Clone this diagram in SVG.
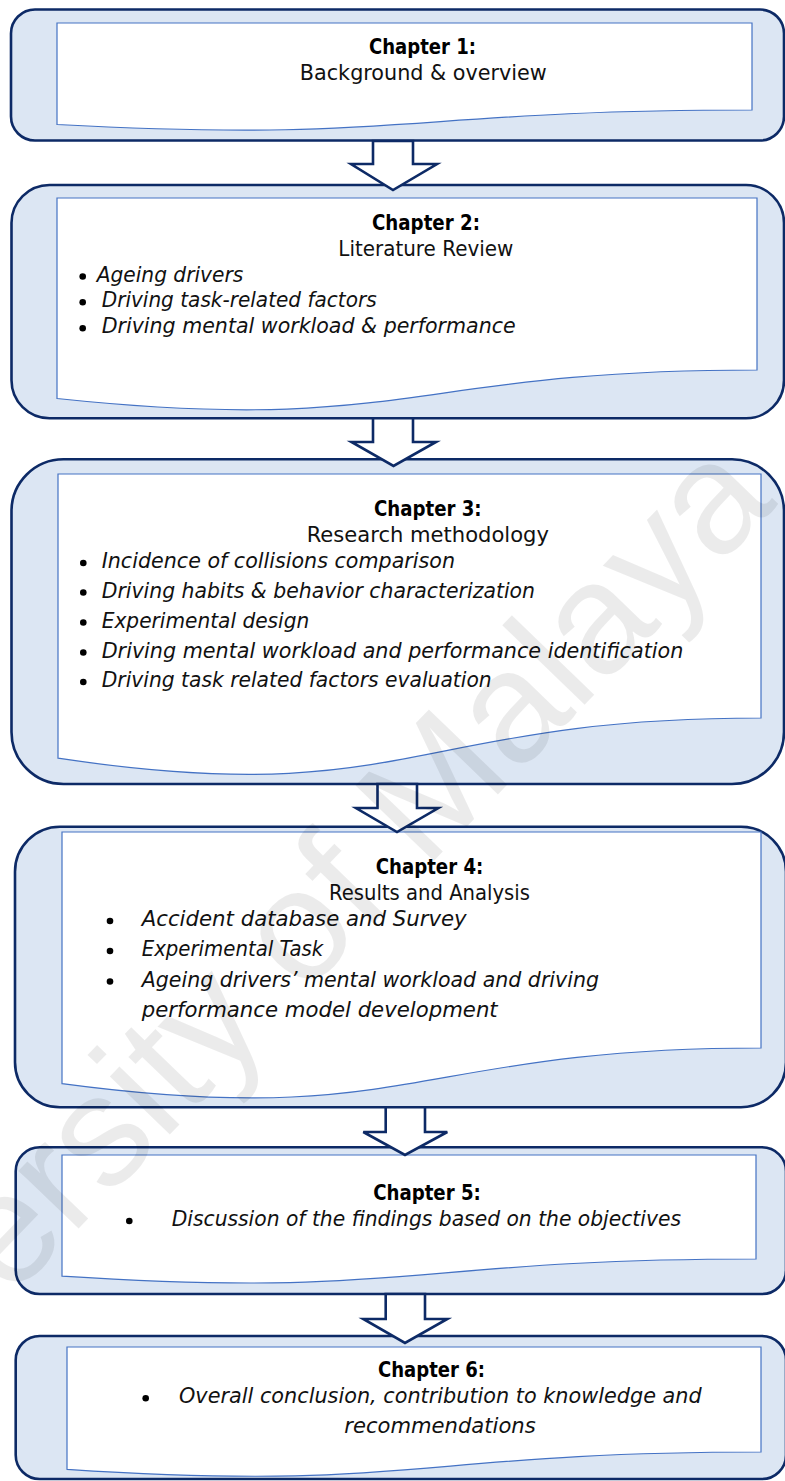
<svg xmlns="http://www.w3.org/2000/svg" width="785" height="1481" viewBox="0 0 785 1481">
  <style>
    .frame { fill: #dce6f3; stroke: #0d2a66; stroke-width: 2.6; }
    .doc { fill: #ffffff; stroke: #4472c4; stroke-width: 1.2; }
    .arrow { fill: #ffffff; stroke: #0d2a66; stroke-width: 2.6; stroke-linejoin: miter; }
    .head { font-family: "DejaVu Sans", "Liberation Sans", sans-serif; font-size: 21px; font-weight: bold; fill: #000000; text-anchor: middle; }
    .sub { font-family: "DejaVu Sans", "Liberation Sans", sans-serif; font-size: 21px; fill: #111111; text-anchor: middle; }
    .item { font-family: "DejaVu Sans", "Liberation Sans", sans-serif; font-size: 21px; font-style: italic; fill: #111111; }
    .dot { fill: #000000; }
    .mark { font-family: "Liberation Sans", Arial, sans-serif; font-size: 158px; fill: #000000; fill-opacity: 0.08; }
  </style>

  <!-- Chapter 1 -->
  <g id="chapter1">
    <rect class="frame" x="11" y="9.5" width="773" height="131" rx="24" ry="24"/>
    <path class="doc" d="M57,23 H752 V110 C404.5,110 404.5,143 57,124.5 Z"/>
    <text class="head" x="422.5" y="54" textLength="107" lengthAdjust="spacingAndGlyphs">Chapter 1:</text>
    <text class="sub" x="423.3" y="80" textLength="247" lengthAdjust="spacingAndGlyphs">Background &amp; overview</text>
  </g>

  <!-- Chapter 2 -->
  <g id="chapter2">
    <rect class="frame" x="11.5" y="185" width="772.5" height="233.3" rx="38" ry="38"/>
    <path class="doc" d="M57,198 H757 V370 C407,370 407,435.5 57,398.5 Z"/>
    <text class="head" x="426" y="230" textLength="108" lengthAdjust="spacingAndGlyphs">Chapter 2:</text>
    <text class="sub" x="425.8" y="256" textLength="175" lengthAdjust="spacingAndGlyphs">Literature Review</text>
    <circle class="dot" cx="82.7" cy="276.5" r="3.3"/>
    <text class="item" x="96.7" y="281.7" textLength="146.6" lengthAdjust="spacingAndGlyphs">Ageing drivers</text>
    <circle class="dot" cx="82.7" cy="302.3" r="3.3"/>
    <text class="item" x="101.7" y="307.3" textLength="275" lengthAdjust="spacingAndGlyphs">Driving task-related factors</text>
    <circle class="dot" cx="82.7" cy="328.3" r="3.3"/>
    <text class="item" x="101.7" y="333.3" textLength="414" lengthAdjust="spacingAndGlyphs">Driving mental workload &amp; performance</text>
  </g>

  <!-- Chapter 3 -->
  <g id="chapter3">
    <rect class="frame" x="11.5" y="459.3" width="772.5" height="324.7" rx="52" ry="52"/>
    <path class="doc" d="M58,474 H761 V718 C409.5,718 409.5,811 58,758.2 Z"/>
    <text class="head" x="427.8" y="515.7" textLength="107.7" lengthAdjust="spacingAndGlyphs">Chapter 3:</text>
    <text class="sub" x="427.8" y="541.7" textLength="242.3" lengthAdjust="spacingAndGlyphs">Research methodology</text>
    <circle class="dot" cx="83.3" cy="563" r="3.3"/>
    <text class="item" x="101.7" y="568.3" textLength="353.3" lengthAdjust="spacingAndGlyphs">Incidence of collisions comparison</text>
    <circle class="dot" cx="83.3" cy="592.5" r="3.3"/>
    <text class="item" x="101.7" y="597.7" textLength="433.3" lengthAdjust="spacingAndGlyphs">Driving habits &amp; behavior characterization</text>
    <circle class="dot" cx="83.3" cy="622.5" r="3.3"/>
    <text class="item" x="101.7" y="627.7" textLength="207.6" lengthAdjust="spacingAndGlyphs">Experimental design</text>
    <circle class="dot" cx="83.3" cy="652.5" r="3.3"/>
    <text class="item" x="101.7" y="657.7" textLength="581.6" lengthAdjust="spacingAndGlyphs">Driving mental workload and performance identification</text>
    <circle class="dot" cx="83.3" cy="682" r="3.3"/>
    <text class="item" x="101.7" y="687.3" textLength="390" lengthAdjust="spacingAndGlyphs">Driving task related factors evaluation</text>
  </g>

  <!-- Chapter 4 -->
  <g id="chapter4">
    <rect class="frame" x="15" y="826.7" width="771" height="280.6" rx="45" ry="45"/>
    <path class="doc" d="M62,832 H761 V1048 C411.5,1048 411.5,1130.3 62,1083.6 Z"/>
    <text class="head" x="429.5" y="874" textLength="107.6" lengthAdjust="spacingAndGlyphs">Chapter 4:</text>
    <text class="sub" x="429.5" y="900" textLength="201" lengthAdjust="spacingAndGlyphs">Results and Analysis</text>
    <circle class="dot" cx="110" cy="921" r="3.3"/>
    <text class="item" x="141.7" y="926" textLength="325" lengthAdjust="spacingAndGlyphs">Accident database and Survey</text>
    <circle class="dot" cx="110" cy="951" r="3.3"/>
    <text class="item" x="141.7" y="956" textLength="181.6" lengthAdjust="spacingAndGlyphs">Experimental Task</text>
    <circle class="dot" cx="110" cy="981.5" r="3.3"/>
    <text class="item" x="141.7" y="986.7" textLength="457.3" lengthAdjust="spacingAndGlyphs">Ageing drivers’ mental workload and driving</text>
    <text class="item" x="141.7" y="1016.7" textLength="356" lengthAdjust="spacingAndGlyphs">performance model development</text>
  </g>

  <!-- Chapter 5 -->
  <g id="chapter5">
    <rect class="frame" x="15.7" y="1147.3" width="770.3" height="146.7" rx="24" ry="24"/>
    <path class="doc" d="M62,1155 H756 V1259 C409,1259 409,1298.6 62,1276.1 Z"/>
    <text class="head" x="427" y="1200" textLength="107.7" lengthAdjust="spacingAndGlyphs">Chapter 5:</text>
    <circle class="dot" cx="129.3" cy="1221" r="3.3"/>
    <text class="item" x="171.7" y="1226" textLength="509.3" lengthAdjust="spacingAndGlyphs">Discussion of the findings based on the objectives</text>
  </g>

  <!-- Chapter 6 -->
  <g id="chapter6">
    <rect class="frame" x="15.7" y="1336" width="770.3" height="143" rx="24" ry="24"/>
    <path class="doc" d="M67,1347 H761 V1452 C414,1452 414,1492 67,1469.3 Z"/>
    <text class="head" x="431.5" y="1377.3" textLength="107" lengthAdjust="spacingAndGlyphs">Chapter 6:</text>
    <circle class="dot" cx="145.7" cy="1398.3" r="3.3"/>
    <text class="item" x="179" y="1403.3" textLength="522.7" lengthAdjust="spacingAndGlyphs">Overall conclusion, contribution to knowledge and</text>
    <text class="item" x="440" y="1432.7" text-anchor="middle" textLength="191.4" lengthAdjust="spacingAndGlyphs">recommendations</text>
  </g>

  <!-- Block arrows linking consecutive chapters -->
  <g id="connectors">
    <path class="arrow" d="M373,141 V164 H351 L393,190 L437,164 H413 V141 Z"/>
    <path class="arrow" d="M373,418.3 V442 H351.5 L393.5,466 L436,442 H413 V418.3 Z"/>
    <path class="arrow" d="M377.5,784 V808 H356 L397,832 L438.3,808 H417 V784 Z"/>
    <path class="arrow" d="M385.7,1107.3 V1132 H363.3 L405,1155 L447.3,1132 H425 V1107.3 Z"/>
    <path class="arrow" d="M385.7,1294 V1319 H363.3 L405,1343 L447.3,1319 H425 V1294 Z"/>
  </g>

  <!-- Repository watermark -->
  <text class="mark" x="-209.6" y="1527.2" transform="rotate(-46 -209.6 1527.2)">University of Malaya</text>
</svg>
